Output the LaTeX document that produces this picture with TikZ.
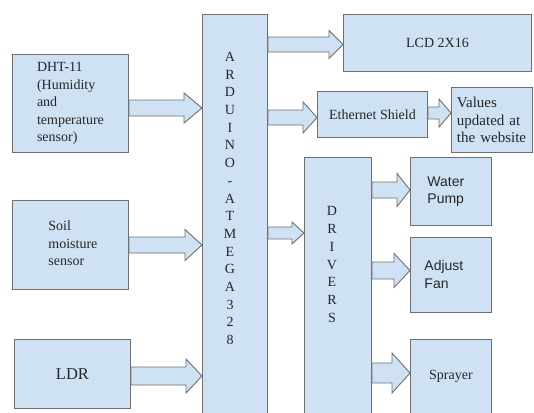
\documentclass[tikz,border=0pt]{standalone}
\usepackage{fontspec}
\setmainfont{Liberation Serif}
\newfontfamily\arialfont{Liberation Sans}
\usetikzlibrary{calc}
\definecolor{boxfill}{HTML}{CFE2F3}
\definecolor{boxline}{HTML}{6F6F6F}
\definecolor{txtcol}{HTML}{262626}
\tikzset{
  box/.style={draw=boxline, fill=boxfill, line width=0.9pt, anchor=north west, inner sep=0pt,
    text=txtcol, font=\fontsize{14}{17.5}\selectfont},
  vtext/.style={text=txtcol, align=center, inner sep=0pt, font=\fontsize{14}{17.7}\selectfont},
  arrowshape/.style={draw=boxline, fill=boxfill, line width=0.9pt, line join=miter}
}
% #1 from node, #2 to node, #3 centre y (px from top), #4 half shaft, #5 half head, #6 head length
\newcommand\barrow[6]{%
  \filldraw[arrowshape] let \p1=(#1.east), \p2=(#2.west) in
    (\x1,{-#3pt+#4pt}) -- ({\x2-#6pt},{-#3pt+#4pt}) -- ({\x2-#6pt},{-#3pt+#5pt})
    -- (\x2,{-#3pt}) -- ({\x2-#6pt},{-#3pt-#5pt}) -- ({\x2-#6pt},{-#3pt-#4pt})
    -- (\x1,{-#3pt-#4pt}) -- cycle;
}
\newcommand\leftlines[3]{\hspace*{#1}\raisebox{#2}{\begin{tabular}{@{}l@{}}#3\end{tabular}}}
\begin{document}
\begin{tikzpicture}[x=1pt,y=1pt]
\useasboundingbox (0,0) rectangle (534,-412);
\clip (0,0) rectangle (534,-412);
\fill[white] (0,0) rectangle (534,-412);
% input boxes
\node[box, minimum width=116pt, minimum height=98pt] (dht) at (12,-54)
  {\leftlines{0pt}{-2.5pt}{DHT-11\\(Humidity\\and\\temperature\\sensor)}};
\node[box, minimum width=116pt, minimum height=89pt] (soil) at (12,-200)
  {\leftlines{5pt}{5pt}{Soil\\moisture\\sensor}};
\node[box, minimum width=116pt, minimum height=69pt, font=\fontsize{16.5}{20}\selectfont] (ldr) at (14,-339) {LDR};
% controller
\node[box, minimum width=65pt, minimum height=420pt] (ard) at (202,-14) {};
\node[vtext] (ardtxt) at (230,-198.5) {A\\R\\D\\U\\I\\N\\O\\-\\A\\T\\M\\E\\G\\A\\3\\2\\8};
% outputs
\node[box, minimum width=188pt, minimum height=57pt] (lcd) at (343,-14) {LCD 2X16};
\node[box, minimum width=110pt, minimum height=46pt] (eth) at (317,-91) {Ethernet Shield};
\node[box, minimum width=81pt, minimum height=65pt, text width=70pt, align=left,
  font=\fontsize{15}{17.5}\selectfont] (val) at (451,-87) {Values\\updated at\\the website};
\node[box, minimum width=67pt, minimum height=280pt] (drv) at (304,-157) {};
\node[vtext] (drvtxt) at (332,-264.5) {D\\R\\I\\V\\E\\R\\S};
\node[box, minimum width=81pt, minimum height=68pt, text width=47pt, align=left,
  font=\arialfont\fontsize{14}{17}\selectfont] (pump) at (410,-157) {Water\\Pump};
\node[box, minimum width=81pt, minimum height=75pt, text width=53pt, align=left,
  font=\arialfont\fontsize{14}{18}\selectfont] (fan) at (410,-237) {Adjust\\Fan};
\node[box, minimum width=81pt, minimum height=90pt, text depth=20pt] (spray) at (410,-339) {Sprayer};
% block arrows
\barrow{dht}{ard}{108}{8}{15}{18}
\barrow{soil}{ard}{245}{8}{15.5}{17}
\barrow{ldr}{ard}{376}{9}{17}{16}
\barrow{ard}{lcd}{44.5}{7.5}{14}{14}
\barrow{ard}{eth}{117.5}{7.5}{15.5}{14}
\barrow{eth}{val}{113}{6}{14}{12}
\barrow{ard}{drv}{233}{6}{11}{12}
\barrow{drv}{pump}{190}{8}{16.5}{13}
\barrow{drv}{fan}{270.5}{8.5}{17}{16}
\barrow{drv}{spray}{373}{10}{20}{18}
\end{tikzpicture}
\end{document}
